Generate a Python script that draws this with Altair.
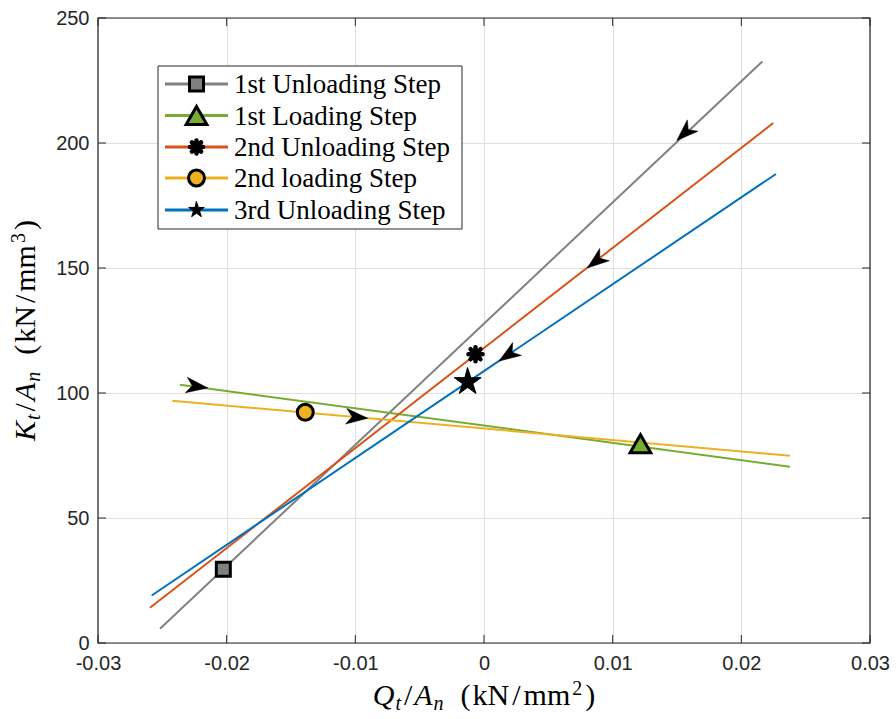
import math
import altair as alt
import pandas as pd

# ---------------- data ----------------
series = ["1st Unloading Step", "1st Loading Step", "2nd Unloading Step",
          "2nd loading Step", "3rd Unloading Step"]
colors = ["#808080", "#77AC30", "#D95319", "#EDB120", "#0072BD"]

line_x_start = [-0.02518, -0.02363, -0.02596, -0.02423, -0.02583]
line_y_start = [5.7, 103.3, 14.1, 96.9, 19.0]
line_x_end = [0.02163, 0.02378, 0.02248, 0.02378, 0.02269]
line_y_end = [232.6, 70.5, 208.0, 74.9, 187.6]

marker_x = [-0.02026, 0.01216, -0.00066, -0.01389, -0.00127]
marker_y = [29.5, 79.7, 115.5, 92.3, 104.4]

arrow_x = [0.0156, -0.0223, 0.0087, -0.00987, 0.00187]
arrow_y = [204.0, 102.6, 152.7, 90.3, 115.2]
arrow_dir = [-1, 1, -1, 1, -1]

x_ticks = [-0.03, -0.02, -0.01, 0, 0.01, 0.02, 0.03]
y_ticks = [0, 50, 100, 150, 200, 250]
X_DOM = [-0.03, 0.03]
Y_DOM = [0, 250]

# ---------------- layout ----------------
W, H = 772, 625
AX = "#262626"
kx = W / (X_DOM[1] - X_DOM[0])
ky = H / (Y_DOM[1] - Y_DOM[0])

xs = alt.Scale(domain=X_DOM, nice=False, zero=False)
ys = alt.Scale(domain=Y_DOM, nice=False, zero=False)

label_x_expr = ("datum.value == 0 ? '0' : (datum.value < 0 ? '-' + format(-datum.value, '.2f')"
                " : format(datum.value, '.2f'))")
common = dict(ticks=False, domain=False, grid=True, gridColor="#dfdfdf", gridWidth=1,
              gridOpacity=1, labelFont="Liberation Sans", labelFontSize=20,
              labelColor=AX, title=None, labelFlush=False, labelOverlap=False)
x_axis = alt.Axis(values=x_ticks, labelExpr=label_x_expr, labelPadding=10, **common)
y_axis = alt.Axis(values=y_ticks, labelPadding=9, **common)

X = lambda f: alt.X(f, scale=xs, axis=x_axis)
Y = lambda f: alt.Y(f, scale=ys, axis=y_axis)

one = pd.DataFrame({"a": [0]})
layers = []

# lines
rows = []
for i, s in enumerate(series):
    rows.append(dict(series=s, k=0, x=line_x_start[i], y=line_y_start[i]))
    rows.append(dict(series=s, k=1, x=line_x_end[i], y=line_y_end[i]))
lines = alt.Chart(pd.DataFrame(rows)).mark_line(strokeWidth=2).encode(
    x=X("x:Q"), y=Y("y:Q"),
    color=alt.Color("series:N", scale=alt.Scale(domain=series, range=colors), legend=None),
    detail="series:N", order="k:Q")
layers.append(lines)

# inward ticks
xt = pd.DataFrame({"t": x_ticks})
yt = pd.DataFrame({"t": y_ticks})
for (a, b) in [(H, H - 8), (0, 8)]:
    layers.append(alt.Chart(xt).mark_rule(color=AX, strokeWidth=1).encode(
        x=X("t:Q"), y=alt.value(a), y2=alt.value(b)))
for (a, b) in [(0, 8), (W - 8, W)]:
    layers.append(alt.Chart(yt).mark_rule(color=AX, strokeWidth=1).encode(
        y=Y("t:Q"), x=alt.value(a), x2=alt.value(b)))

# arrows
ARROW = "M 1 0 L -1 -0.72 L -0.45 0 L -1 0.72 Z"
arows = []
for i in range(len(series)):
    ddx = (line_x_end[i] - line_x_start[i]) * arrow_dir[i]
    ddy = (line_y_end[i] - line_y_start[i]) * arrow_dir[i]
    ang = math.degrees(math.atan2(-ddy * ky, ddx * kx)) % 360
    arows.append(dict(x=arrow_x[i], y=arrow_y[i], ang=ang))
layers.append(alt.Chart(pd.DataFrame(arows)).mark_point(
    shape=ARROW, filled=True, fill="black", stroke="black", strokeWidth=0.5,
    size=470, opacity=1).encode(x=X("x:Q"), y=Y("y:Q"),
                                angle=alt.Angle("ang:Q", scale=None)))

# marker shapes
def pentagram():
    pts = []
    for k in range(10):
        r = 1.0 if k % 2 == 0 else 0.382
        a = math.radians(-90 + 36 * k)
        pts.append(f"{r*math.cos(a):.4f} {r*math.sin(a):.4f}")
    return "M " + " L ".join(pts) + " Z"

STAR = pentagram()
ASTER = ("M -1 0 L 1 0 M 0 -1 L 0 1 M -0.707 -0.707 L 0.707 0.707 "
         "M -0.707 0.707 L 0.707 -0.707")
marker_styles = [
    dict(shape="square", fill="#808080", size=196, sw=3, filled=True),
    dict(shape="triangle-up", fill="#77AC30", size=430, sw=3, filled=True),
    dict(shape=ASTER, fill="black", size=200, sw=4.5, filled=False),
    dict(shape="circle", fill="#EDB120", size=254, sw=3, filled=True),
    dict(shape=STAR, fill="black", size=800, sw=1, filled=True),
]
legend_sizes = [196, 430, 170, 254, 270]

for i, st in enumerate(marker_styles):
    kw = dict(shape=st["shape"], stroke="black", strokeWidth=st["sw"], size=st["size"],
              opacity=1, strokeCap="round", strokeJoin="miter")
    if st["filled"]:
        kw.update(filled=True, fill=st["fill"])
    else:
        kw.update(filled=False)
    layers.append(alt.Chart(pd.DataFrame({"x": [marker_x[i]], "y": [marker_y[i]]}))
                  .mark_point(**kw).encode(x=X("x:Q"), y=Y("y:Q")))

# frame box
layers.append(alt.Chart(one).mark_rect(fillOpacity=0, stroke=AX, strokeWidth=1.2).encode(
    x=alt.value(0), x2=alt.value(W), y=alt.value(0), y2=alt.value(H)))

# legend
LX0, LX1, LY0, LY1 = 60, 364, 48, 211
layers.append(alt.Chart(one).mark_rect(fill="white", stroke=AX, strokeWidth=1).encode(
    x=alt.value(LX0), x2=alt.value(LX1), y=alt.value(LY0), y2=alt.value(LY1)))
row_y = [66, 97.5, 129, 160, 192]
for i, s in enumerate(series):
    yy = row_y[i]
    layers.append(alt.Chart(one).mark_rule(color=colors[i], strokeWidth=3).encode(
        x=alt.value(67), x2=alt.value(130), y=alt.value(yy)))
    st = marker_styles[i]
    kw = dict(shape=st["shape"], stroke="black", strokeWidth=st["sw"], size=legend_sizes[i],
              opacity=1, strokeCap="round")
    if st["filled"]:
        kw.update(filled=True, fill=st["fill"])
    else:
        kw.update(filled=False)
    layers.append(alt.Chart(one).mark_point(**kw).encode(x=alt.value(98.5), y=alt.value(yy)))
    layers.append(alt.Chart(one).mark_text(
        text=s, font="Liberation Serif", fontSize=27, color="black", align="left",
        baseline="middle").encode(x=alt.value(136), y=alt.value(yy + 1)))

# axis titles (LaTeX-like, composed piece by piece, flowed with serif metrics)
ROMAN = {"(": .333, ")": .333, "k": .5, "N": .722, "/": .278, "m": .778, "2": .5, "3": .5}
ITAL = {"Q": .722, "K": .667, "A": .611, "t": .278, "n": .5}
MAIN, SMALL = 30, 20
shift = {0: 0, 1: 5, 2: -10}


def pieces(letter, power):
    return [(letter, "italic", 0, 1), ("t", "italic", 1, 3), ("/", "normal", 0, 2),
            ("A", "italic", 0, 1), ("n", "italic", 1, 17), ("(", "normal", 0, 2),
            ("kN", "normal", 0, 3), ("/", "normal", 0, 3), ("mm", "normal", 0, 2),
            (power, "normal", 2, 3), (")", "normal", 0, 0)]


def flow(pcs):
    out, pos = [], 0.0
    for (txt, style, kind, gap) in pcs:
        size = MAIN if kind == 0 else SMALL
        table = ITAL if style == "italic" else ROMAN
        w = sum(table[c] for c in txt) * size
        out.append((txt, style, kind, size, pos))
        pos += w + gap
    return out, pos


xt_pcs, xspan = flow(pieces("Q", "2"))
yt_pcs, yspan = flow(pieces("K", "3"))
cx, bx = W / 2, 687
for (txt, style, kind, size, off) in xt_pcs:
    layers.append(alt.Chart(one).mark_text(
        text=txt, font="Liberation Serif", fontSize=size, fontStyle=style, color="black",
        align="left", baseline="alphabetic").encode(
        x=alt.value(cx - xspan / 2 + off), y=alt.value(bx + shift[kind])))
cy, by = H / 2, -63
for (txt, style, kind, size, off) in yt_pcs:
    layers.append(alt.Chart(one).mark_text(
        text=txt, font="Liberation Serif", fontSize=size, fontStyle=style, color="black",
        align="left", baseline="alphabetic", angle=270).encode(
        x=alt.value(by + shift[kind]), y=alt.value(cy + yspan / 2 - off)))

chart = alt.layer(*layers).properties(
    width=W, height=H,
    padding={"left": 98, "top": 18, "right": 26, "bottom": 76},
    autosize=alt.AutoSizeParams(type="none"),
).configure_view(strokeWidth=0)

chart.save("out.html", embed_options={"renderer": "svg", "actions": False})
